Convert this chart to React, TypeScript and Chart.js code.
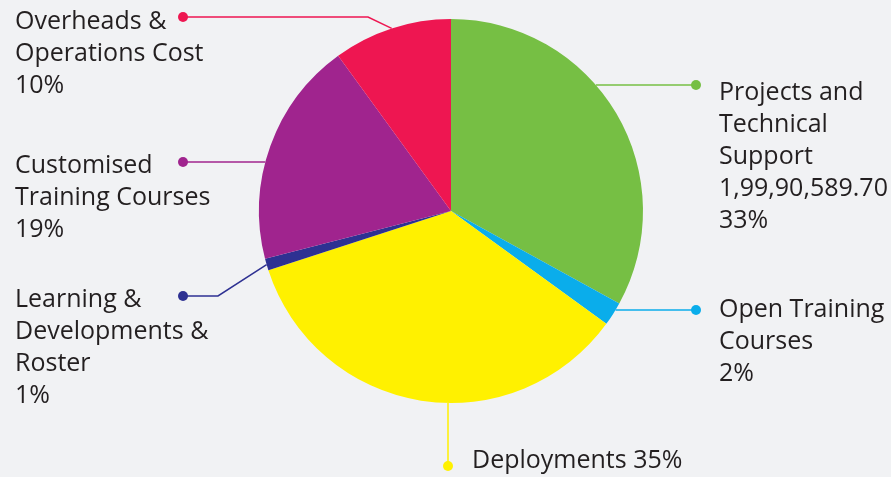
import React, { useEffect, useRef } from "react";
import { Chart, registerables } from "chart.js";

Chart.register(...registerables);

const categories = [
  "Projects and Technical Support",
  "Open Training Courses",
  "Deployments",
  "Learning & Developments & Roster",
  "Customised Training Courses",
  "Overheads & Operations Cost",
];
const values = [33, 2, 35, 1, 19, 10];
const amounts: (string | null)[] = ["1,99,90,589.70", null, null, null, null, null];
const labelLines = [
  ["Projects and", "Technical", "Support"],
  ["Open Training", "Courses"],
  ["Deployments"],
  ["Learning &", "Developments &", "Roster"],
  ["Customised", "Training Courses"],
  ["Overheads &", "Operations Cost"],
];
const colors = ["#76BF44", "#0AADEB", "#FFF100", "#2E3192", "#A0248E", "#EE1651"];

// callout layout (positions of label text, dots and elbows)
type Callout = {
  side: "left" | "right";
  link: "h" | "v" | "mid";
  textX: number;
  baseY: number;
  dotX: number;
  dotY: number;
  elbowX?: number;
  inline?: boolean;
};
const callouts: Callout[] = [
  { side: "right", link: "h", textX: 719, baseY: 100, dotX: 696, dotY: 85 },
  { side: "right", link: "h", textX: 719, baseY: 317, dotX: 696, dotY: 310 },
  { side: "right", link: "v", textX: 472, baseY: 468, dotX: 448, dotY: 466, inline: true },
  { side: "left", link: "mid", textX: 15, baseY: 307, dotX: 183, dotY: 296, elbowX: 218 },
  { side: "left", link: "h", textX: 15, baseY: 173, dotX: 183, dotY: 162 },
  { side: "left", link: "mid", textX: 15, baseY: 29, dotX: 183, dotY: 17, elbowX: 368 },
];

const FONT = '25px "Open Sans", "Noto Sans", sans-serif';
const LINE_H = 32;
const TEXT_COLOR = "#231F20";

const calloutPlugin = {
  id: "callouts",
  afterDraw(chart: any) {
    const ctx: CanvasRenderingContext2D = chart.ctx;
    const meta = chart.getDatasetMeta(0);
    const total = values.reduce((a, b) => a + b, 0);
    ctx.save();
    callouts.forEach((c, i) => {
      const arc = meta.data[i];
      const { x: cx, y: cy, outerRadius: r, startAngle, endAngle } = arc.getProps(
        ["x", "y", "outerRadius", "startAngle", "endAngle"],
        true
      );
      let ax: number, ay: number;
      if (c.link === "h") {
        const dy = c.dotY - cy;
        const dx = Math.sqrt(Math.max(r * r - dy * dy, 0));
        ax = c.side === "right" ? cx + dx : cx - dx;
        ay = c.dotY;
      } else if (c.link === "v") {
        const dx = c.dotX - cx;
        ax = c.dotX;
        ay = cy + Math.sqrt(Math.max(r * r - dx * dx, 0));
      } else {
        const mid = (startAngle + endAngle) / 2;
        ax = cx + r * Math.cos(mid);
        ay = cy + r * Math.sin(mid);
      }
      ctx.strokeStyle = colors[i];
      ctx.lineWidth = 1.5;
      ctx.beginPath();
      ctx.moveTo(ax, ay);
      if (c.elbowX !== undefined) ctx.lineTo(c.elbowX, c.dotY);
      ctx.lineTo(c.dotX, c.dotY);
      ctx.stroke();
      ctx.fillStyle = colors[i];
      ctx.beginPath();
      ctx.arc(c.dotX, c.dotY, 5, 0, Math.PI * 2);
      ctx.fill();

      const pct = Math.round((values[i] / total) * 100) + "%";
      let lines = [...labelLines[i]];
      if (amounts[i]) lines.push(amounts[i] as string);
      if (c.inline) lines[lines.length - 1] += " " + pct;
      else lines.push(pct);
      ctx.fillStyle = TEXT_COLOR;
      ctx.font = FONT;
      ctx.textAlign = "left";
      ctx.textBaseline = "alphabetic";
      lines.forEach((t, k) => ctx.fillText(t, c.textX, c.baseY + k * LINE_H));
    });
    ctx.restore();
  },
};

export default function App() {
  const ref = useRef<HTMLCanvasElement>(null);
  useEffect(() => {
    document.body.style.margin = "0";
    document.body.style.background = "#F1F2F4";
    const chart = new Chart(ref.current as HTMLCanvasElement, {
      type: "pie",
      data: {
        labels: categories,
        datasets: [
          {
            data: values,
            backgroundColor: colors,
            borderWidth: 0,
          },
        ],
      },
      options: {
        responsive: false,
        animation: false,
        devicePixelRatio: 1,
        layout: { padding: { left: 200, right: 189, top: 19, bottom: 74 } },
        plugins: {
          legend: { display: false },
          tooltip: { enabled: false },
        },
      },
      plugins: [calloutPlugin],
    });
    return () => chart.destroy();
  }, []);
  return (
    <div style={{ width: 891, height: 477, background: "#F1F2F4" }}>
      <canvas ref={ref} width={891} height={477} style={{ display: "block" }} />
    </div>
  );
}
